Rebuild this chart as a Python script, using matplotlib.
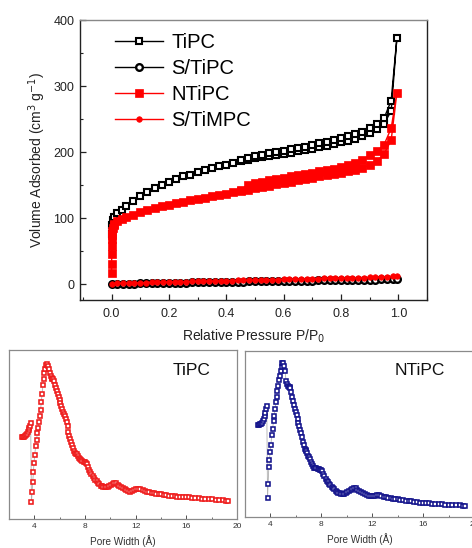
import matplotlib
matplotlib.use("Agg")
import matplotlib.pyplot as plt
from matplotlib.ticker import MultipleLocator

plt.rcParams['font.family'] = ['Liberation Sans', 'DejaVu Sans']

# ---------------- isotherm data ----------------
tipc_p_ads = [0.0005, 0.002, 0.005, 0.01, 0.02, 0.035, 0.05, 0.075, 0.1, 0.125,
              0.15, 0.175, 0.2, 0.225, 0.25, 0.275, 0.3, 0.325, 0.35, 0.375,
              0.4, 0.425, 0.45, 0.475, 0.5, 0.525, 0.55, 0.575, 0.6, 0.625,
              0.65, 0.675, 0.7, 0.725, 0.75, 0.775, 0.8, 0.825, 0.85, 0.875,
              0.9, 0.925, 0.95, 0.975, 0.995]
tipc_v_ads = [76, 90, 97, 101, 107, 113, 119, 126, 133, 139,
              145, 150, 155, 159, 163, 166, 170, 173, 176, 179,
              181, 184, 186, 188, 191, 193, 194, 196, 197, 199,
              201, 203, 205, 207, 209, 212, 215, 217, 220, 224,
              229, 235, 243, 262, 373]
tipc_p_des = [0.975, 0.95, 0.925, 0.9, 0.875, 0.85, 0.825, 0.8, 0.775, 0.75,
              0.725, 0.7, 0.675, 0.65, 0.625, 0.6, 0.575, 0.55, 0.525, 0.5,
              0.475, 0.45]
tipc_v_des = [278, 251, 242, 236, 231, 227, 224, 221, 218, 215,
              213, 211, 208, 206, 204, 202, 200, 198, 196, 194,
              191, 188]

ntipc_p_ads = [0.0001, 0.0003, 0.0006, 0.001, 0.0015, 0.002, 0.003, 0.005, 0.008,
               0.01, 0.02, 0.035, 0.05, 0.075, 0.1, 0.125, 0.15, 0.175, 0.2,
               0.225, 0.25, 0.275, 0.3, 0.325, 0.35, 0.375, 0.4, 0.425, 0.45,
               0.475, 0.5, 0.525, 0.55, 0.575, 0.6, 0.625, 0.65, 0.675, 0.7,
               0.725, 0.75, 0.775, 0.8, 0.825, 0.85, 0.875, 0.9, 0.925, 0.95,
               0.975, 0.995]
ntipc_v_ads = [17, 30, 45, 58, 68, 75, 80, 85, 89,
               91, 95, 98, 101, 105, 109, 112, 115, 118, 120,
               123, 125, 127, 129, 131, 133, 135, 137, 139, 141,
               143, 145, 147, 149, 151, 153, 155, 157, 159, 161,
               163, 165, 167, 169, 171, 173, 176, 180, 186, 197,
               218, 290]
ntipc_p_des = [0.975, 0.95, 0.925, 0.9, 0.875, 0.85, 0.825, 0.8, 0.775, 0.75,
               0.725, 0.7, 0.675, 0.65, 0.625, 0.6, 0.575, 0.55, 0.525, 0.5,
               0.475, 0.45]
ntipc_v_des = [236, 211, 201, 195, 188, 183, 180, 177, 175, 173,
               171, 169, 167, 165, 163, 161, 159, 157, 155, 153,
               150, 143]

s_p = [0.001, 0.02, 0.04, 0.06, 0.08, 0.10, 0.12, 0.14, 0.16, 0.18,
       0.20, 0.22, 0.24, 0.26, 0.28, 0.30, 0.32, 0.34, 0.36, 0.38,
       0.40, 0.42, 0.44, 0.46, 0.48, 0.50, 0.52, 0.54, 0.56, 0.58,
       0.60, 0.62, 0.64, 0.66, 0.68, 0.70, 0.72, 0.74, 0.76, 0.78,
       0.80, 0.82, 0.84, 0.86, 0.88, 0.90, 0.92, 0.94, 0.96, 0.98, 0.995]
s_tipc_v = [0.0, 0.3, 0.5, 0.7, 0.9, 1.1, 1.3, 1.5, 1.6, 1.8,
            2.0, 2.1, 2.3, 2.4, 2.6, 2.7, 2.9, 3.0, 3.2, 3.3,
            3.5, 3.6, 3.7, 3.9, 4.0, 4.1, 4.3, 4.4, 4.5, 4.7,
            4.8, 4.9, 5.0, 5.2, 5.3, 5.4, 5.5, 5.7, 5.8, 5.9,
            6.0, 6.2, 6.3, 6.4, 6.6, 6.7, 6.9, 7.1, 7.3, 7.6, 8.5]
s_timpc_v = [0.5, 1.0, 1.3, 1.6, 1.9, 2.1, 2.4, 2.6, 2.8, 3.0,
             3.2, 3.4, 3.6, 3.8, 4.0, 4.2, 4.4, 4.6, 4.8, 5.0,
             5.2, 5.4, 5.6, 5.8, 6.0, 6.2, 6.4, 6.6, 6.8, 7.0,
             7.2, 7.4, 7.6, 7.8, 8.0, 8.2, 8.4, 8.6, 8.8, 9.0,
             9.2, 9.4, 9.6, 9.8, 10.0, 10.2, 10.5, 10.8, 11.2, 11.8, 13.0]

# ---------------- pore size distribution data ----------------
pore_width = [3.05, 3.12, 3.19, 3.26, 3.33, 3.40, 3.47, 3.54, 3.60, 3.66, 3.71,
              3.77, 3.82, 3.87, 3.92, 3.97, 4.03, 4.10, 4.17, 4.24, 4.30,
              4.36, 4.43, 4.49, 4.55, 4.61, 4.67, 4.73, 4.80, 4.87, 4.94,
              5.01, 5.08, 5.15,
              5.22, 5.29, 5.36, 5.43, 5.50, 5.57, 5.64, 5.71, 5.78, 5.85,
              5.92, 5.99, 6.06, 6.13, 6.20, 6.27, 6.34, 6.41, 6.48, 6.55,
              6.62, 6.69, 6.76, 6.83, 6.90, 6.97, 7.05, 7.13, 7.21, 7.29,
              7.37, 7.45, 7.53, 7.61, 7.70, 7.79, 7.88, 7.97, 8.06, 8.15,
              8.24, 8.33, 8.42, 8.51, 8.61, 8.71, 8.81, 8.91, 9.01, 9.12,
              9.23, 9.34, 9.45, 9.57, 9.69, 9.81, 9.93, 10.05, 10.18, 10.31,
              10.44, 10.57, 10.70, 10.84, 10.98, 11.12, 11.27, 11.42, 11.57, 11.72,
              11.88, 12.04, 12.20, 12.37, 12.54, 12.71, 12.89, 13.07, 13.25, 13.44,
              13.63, 13.82, 14.02, 14.22, 14.43, 14.64, 14.85, 15.07, 15.29, 15.52,
              15.75, 15.98, 16.22, 16.46, 16.71, 16.96, 17.22, 17.48, 17.75, 18.02,
              18.30, 18.58, 18.87, 19.16, 19.30]
psd_tipc = [.487, .485, .486, .489, .495, .503, .512, .524, .538, .552, .566,
            .10, .16, .22, .28, .33, .38, .43, .47, .51, .54,
            .575, .61, .645, .69, .74, .79, .83, .865, .89, .91,
            .915, .905, .885,
            .865, .848, .836, .83, .826, .818, .795, .775, .757, .74,
            .722, .705, .688, .67, .652, .635, .62, .607, .592, .575,
            .548, .515, .494, .476, .457, .438, .42, .405, .392, .387,
            .383, .372, .362, .355, .35, .345, .34, .338, .334, .326,
            .305, .29, .277, .266, .255, .243, .232, .222, .213, .205,
            .198, .193, .19, .189, .19, .192, .195, .20, .207, .211,
            .211, .203, .195, .188, .181, .176, .17, .164, .162, .166,
            .171, .175, .176, .176, .173, .167, .161, .157, .154, .152,
            .15, .148, .146, .144, .142, .139, .137, .135, .133, .132,
            .131, .13, .128, .126, .124, .122, .121, .119, .118, .116,
            .114, .112, .11, .108, .107]
psd_ntipc = [.555, .556, .558, .562, .568, .578, .59, .607, .628, .648, .665,
             .11, .20, .30, .34, .39, .43, .49, .53, .58, .61,
             .65, .69, .72, .76, .79, .825, .85, .88, .905, .925,
             .93, .91, .88,
             .82, .80, .788, .785, .785, .775, .752, .72, .695, .672,
             .652, .632, .612, .59, .568, .546, .524, .503, .478, .45,
             .43, .41, .404, .398, .382, .368, .358, .348, .332, .317,
             .306, .295, .292, .292, .288, .285, .282, .282, .273, .259,
             .244, .23, .218, .208, .197, .188, .18, .172, .164, .156,
             .149, .145, .141, .139, .137, .138, .143, .149, .156, .162,
             .167, .171, .17, .163, .156, .149, .142, .136, .129, .125,
             .124, .125, .127, .129, .128, .124, .121, .117, .113, .111,
             .108, .106, .104, .101, .098, .096, .094, .092, .09, .087,
             .085, .084, .082, .08, .078, .077, .075, .074, .073, .072,
             .071, .069, .068, .067, .066]

RED = '#ff0000'
NAVY = '#14148c'

fig = plt.figure(figsize=(4.72, 5.48), dpi=100)

# ---------------- top: isotherms ----------------
ax = fig.add_axes([0.1695, 0.4526, 0.7352, 0.5109])
ax.plot(tipc_p_ads + tipc_p_des, tipc_v_ads + tipc_v_des, color='black', lw=1.0,
        marker='s', ms=4.8, mfc='white', mec='black', mew=1.5, label='TiPC', zorder=3)
ax.plot(s_p, s_tipc_v, color='black', lw=1.0, marker='o', ms=4.8, mfc='white',
        mec='black', mew=1.7, label='S/TiPC', zorder=3)
ax.plot(ntipc_p_ads + ntipc_p_des, ntipc_v_ads + ntipc_v_des, color=RED, lw=1.0,
        marker='s', ms=5.6, mfc=RED, mec=RED, mew=0.5, label='NTiPC', zorder=4)
ax.plot(s_p, s_timpc_v, color=RED, lw=1.0, marker='o', ms=4.0, mfc=RED, mec=RED,
        mew=0.5, label='S/TiMPC', zorder=5)

ax.set_xlim(-0.11, 1.1)
ax.set_ylim(-24, 400)
ax.xaxis.set_major_locator(MultipleLocator(0.2))
ax.xaxis.set_minor_locator(MultipleLocator(0.1))
ax.yaxis.set_major_locator(MultipleLocator(100))
ax.yaxis.set_minor_locator(MultipleLocator(50))
ax.set_xticks([0.0, 0.2, 0.4, 0.6, 0.8, 1.0])
ax.set_xticklabels(['0.0', '0.2', '0.4', '0.6', '0.8', '1.0'])
ax.tick_params(which='both', direction='in', labelsize=9, colors='#222222')
ax.tick_params(axis='x', which='major', length=4, width=0.9, pad=6)
ax.tick_params(axis='y', which='major', length=4, width=0.9, pad=4)
ax.tick_params(which='minor', length=2.5, width=0.8)
for s in ['left', 'bottom', 'right']:
    ax.spines[s].set_color('#222222')
    ax.spines[s].set_linewidth(1.0)
ax.spines['top'].set_color('#888888')
ax.spines['top'].set_linewidth(1.0)
ax.set_xlabel('Relative Pressure P/P$_0$', fontsize=10, labelpad=5, color='#222222')
ax.set_ylabel('Volume Adsorbed (cm$^3$ g$^{-1}$)', fontsize=10, labelpad=4, color='#222222')

leg = ax.legend(loc='upper left', bbox_to_anchor=(0.101, 0.955), frameon=False,
                fontsize=14.5, handlelength=2.4, handletextpad=0.4, labelspacing=0.36,
                borderaxespad=0, borderpad=0)

# ---------------- bottom: pore size distributions ----------------
def psd_panel(rect, x, y, color):
    a = fig.add_axes(rect)
    a.plot(x, y, color='#b0b0b0', lw=0.6, zorder=1)
    a.plot(x, y, ls='none', marker='s', ms=3.3, mfc='white', mec=color, mew=1.15, zorder=2)
    a.set_xlim(2, 20)
    a.set_ylim(0, 1)
    a.xaxis.set_major_locator(MultipleLocator(4))
    a.xaxis.set_minor_locator(MultipleLocator(2))
    a.set_yticks([])
    a.tick_params(axis='x', which='both', direction='in', labelsize=6, pad=3,
                  colors='#333333')
    a.tick_params(axis='x', which='major', length=3, width=0.6)
    a.tick_params(axis='x', which='minor', length=1.5, width=0.5)
    for s in a.spines.values():
        s.set_color('#8a8a8a')
        s.set_linewidth(0.9)
    a.set_xlabel('Pore Width (Å)', fontsize=7.2, labelpad=3.5, color='#333333')
    return a

a1 = psd_panel([0.0191, 0.0529, 0.4831, 0.3084], pore_width, psd_tipc, '#ee1c1c')
a1.text(0.80, 0.876, 'TiPC', transform=a1.transAxes, fontsize=12.5,
        ha='center', va='center', color='#111111')
a2 = psd_panel([0.5191, 0.0572, 0.4852, 0.3024], pore_width, psd_ntipc, NAVY)
a2.text(0.764, 0.879, 'NTiPC', transform=a2.transAxes, fontsize=12.5,
        ha='center', va='center', color='#111111')

fig.savefig('out.png', dpi=100)
